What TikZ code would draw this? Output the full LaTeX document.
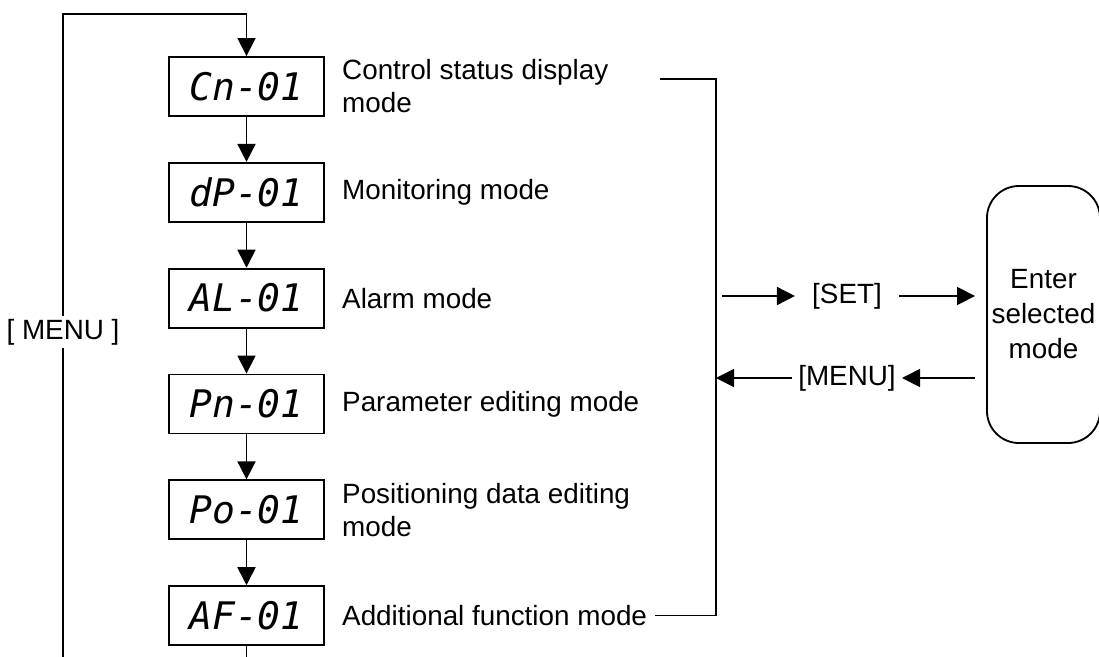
\documentclass[tikz,border=0pt]{standalone}
\usepackage{fontspec}
\setmainfont{Liberation Sans}
\newfontfamily\segfont{DejaVu Sans Mono}
\usetikzlibrary{positioning, arrows.meta}

\begin{document}
\begin{tikzpicture}[
		font=\fontsize{19.8}{23.5}\selectfont,
		disp/.style={draw, line width=1.3pt, minimum width=3.875cm, minimum height=1.475cm, inner sep=0pt, font=\fontsize{27}{27}\selectfont\segfont\itshape},
		lbl/.style={align=left, inner sep=0.2cm},
		arr/.style={-{Triangle[length=0.45cm, width=0.45cm]}, line width=1.2pt},
		wire/.style={line width=1.2pt},
	]
	\useasboundingbox (0,0) rectangle (27.475,-16.425);

	% display boxes
	\node[disp] (cn) at (6.1625,-2.1625) {Cn-01};
	\node[disp, below=1.125cm of cn] (dp) {dP-01};
	\node[disp, below=1.125cm of dp] (al) {AL-01};
	\node[disp, below=1.125cm of al] (pn) {Pn-01};
	\node[disp, below=1.125cm of pn] (po) {Po-01};
	\node[disp, below=1.125cm of po] (af) {AF-01};

	\node[lbl, right=0.225cm of cn] (cnl) {Control status display\\mode};
	\node[lbl, right=0.225cm of dp] (dpl) {Monitoring mode};
	\node[lbl, right=0.225cm of al] (all) {Alarm mode};
	\node[lbl, right=0.225cm of pn] (pnl) {Parameter editing mode};
	\node[lbl, right=0.225cm of po] (pol) {Positioning data editing\\mode};
	\node[lbl, right=0.225cm of af] (afl) {Additional function mode};

	\foreach \a/\b in {cn/dp, dp/al, al/pn, pn/po, po/af}
		\draw[arr] (\a) -- (\b);

	% return loop
	\coordinate (loopbot) at (1.575,-16.425);
	\draw[arr] (loopbot) |- ([yshift=1.05cm]cn.north) -- (cn.north);
	\draw[wire] (af.south) -- (af.south |- loopbot);
	\node[fill=white, inner sep=0.08cm] (menuloop) at (1.575,-8.3) {[ MENU ]};

	% bracket
	\coordinate (brktop) at (16.5,-1.975);
	\coordinate (brk) at (17.9,-1.975);
	\draw[wire] (brktop) -- (brk) |- (afl.east);

	% selected mode
	\node[draw, line width=1.3pt, rounded corners=0.8cm, minimum width=2.825cm, minimum height=6.425cm,
		align=center, font=\fontsize{19.8}{24.9}\selectfont] (enter) at (26.0875,-7.8625) {Enter\\selected\\mode};
	\node[inner xsep=0.425cm] (set) at (21.175,-7.4) {[SET]};
	\node[inner xsep=0.15cm] (menu) at (21.175,-9.45) {[MENU]};

	\draw[arr, shorten <=0.15cm] (set.west -| brk) -- (set.west);
	\draw[arr, shorten >=0.275cm] (set.east) -- (set.east -| enter.west);
	\draw[arr, shorten <=0.275cm] (menu.east -| enter.west) -- (menu.east);
	\draw[arr] (menu.west) -- (menu.west -| brk);
\end{tikzpicture}
\end{document}
